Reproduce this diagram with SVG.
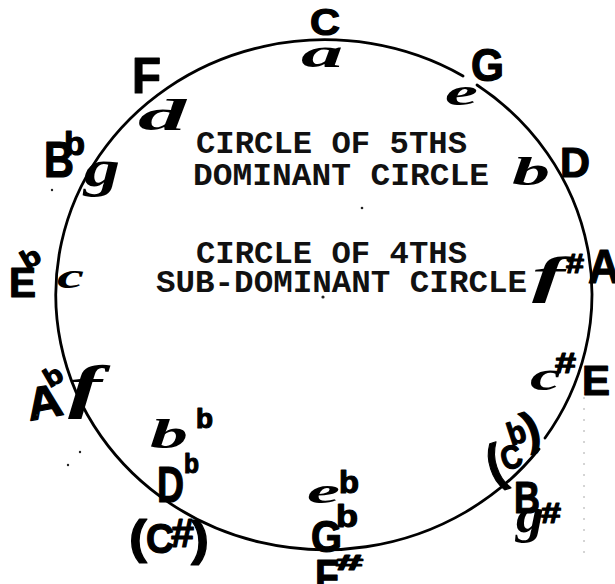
<svg xmlns="http://www.w3.org/2000/svg" width="615" height="584" viewBox="0 0 615 584">
<style>
.cap{font-family:"Liberation Sans","DejaVu Sans",sans-serif;font-weight:bold;fill:#000;stroke:#000;stroke-width:1.2;stroke-linejoin:round}
.low{font-family:"Liberation Serif","DejaVu Serif",serif;font-weight:bold;font-style:italic;fill:#000}
.type{font-family:"Liberation Mono","DejaVu Sans Mono",monospace;font-weight:bold;font-size:32px;fill:#111}
.ring{fill:none;stroke:#000;stroke-width:2.8;stroke-linecap:round}
</style>
<rect width="615" height="584" fill="#fff"/>
<g id="connectors">
<path class="ring" d="M 477 85 A 269 255 0 0 1 545 438 M 539 449 A 269 255 0 1 1 463 76"/>
</g>
<g id="title">
<text class="type" x="196" y="153" textLength="271" lengthAdjust="spacingAndGlyphs">CIRCLE OF 5THS</text>
<text class="type" x="193" y="185" textLength="296" lengthAdjust="spacingAndGlyphs">DOMINANT CIRCLE</text>
<text class="type" x="196" y="263" textLength="271" lengthAdjust="spacingAndGlyphs">CIRCLE OF 4THS</text>
<text class="type" x="156" y="292" textLength="371" lengthAdjust="spacingAndGlyphs">SUB-DOMINANT CIRCLE</text>
</g>
<g id="key-C"><text class="cap" x="310" y="35" font-size="37" textLength="30" lengthAdjust="spacingAndGlyphs">C</text><text class="low" x="301" y="67" font-size="40" textLength="42" lengthAdjust="spacingAndGlyphs">a</text></g>
<g id="key-G"><text class="cap" x="471" y="81" font-size="46" textLength="33" lengthAdjust="spacingAndGlyphs">G</text><text class="low" x="445" y="105" font-size="38" textLength="33" lengthAdjust="spacingAndGlyphs">e</text></g>
<g id="key-D"><text class="cap" x="560" y="177" font-size="42" textLength="30" lengthAdjust="spacingAndGlyphs">D</text><text class="low" x="512" y="185" font-size="40" textLength="38" lengthAdjust="spacingAndGlyphs">b</text></g>
<g id="key-A"><text class="cap" x="588" y="283" font-size="48" textLength="32" lengthAdjust="spacingAndGlyphs">A</text><text class="low" x="532" y="292" font-size="50" textLength="33" lengthAdjust="spacingAndGlyphs">f</text><text class="cap" x="566" y="273" font-size="28" textLength="18" lengthAdjust="spacingAndGlyphs">#</text></g>
<g id="key-E"><text class="cap" x="582" y="395" font-size="42" textLength="28" lengthAdjust="spacingAndGlyphs">E</text><text class="low" x="530" y="390" font-size="42" textLength="31" lengthAdjust="spacingAndGlyphs">c</text><text class="cap" x="555" y="373" font-size="30" textLength="21" lengthAdjust="spacingAndGlyphs">#</text></g>
<g id="key-B"><text class="cap" x="514" y="513" font-size="45" textLength="26" lengthAdjust="spacingAndGlyphs">B</text><text class="low" x="516" y="532" font-size="50" textLength="28" lengthAdjust="spacingAndGlyphs">g</text><text class="cap" x="541" y="523" font-size="30" textLength="20" lengthAdjust="spacingAndGlyphs">#</text>
<g transform="rotate(-18 514 445)"><text class="cap" x="482" y="474" font-size="52" textLength="16" lengthAdjust="spacingAndGlyphs">(</text><text class="cap" x="497" y="467" font-size="33" textLength="21" lengthAdjust="spacingAndGlyphs">C</text><text class="cap" x="511" y="445" font-size="32" textLength="18" lengthAdjust="spacingAndGlyphs">b</text><text class="cap" x="527" y="450" font-size="46" textLength="16" lengthAdjust="spacingAndGlyphs">)</text></g></g>
<g id="key-Gb"><text class="cap" x="311" y="552" font-size="44" textLength="31" lengthAdjust="spacingAndGlyphs">G</text><text class="cap" x="336" y="527" font-size="32" textLength="22" lengthAdjust="spacingAndGlyphs">b</text><text class="low" x="307" y="503" font-size="36" textLength="33" lengthAdjust="spacingAndGlyphs">e</text><text class="cap" x="339" y="493" font-size="31" textLength="20" lengthAdjust="spacingAndGlyphs">b</text><text class="cap" x="315" y="592" font-size="46" textLength="24" lengthAdjust="spacingAndGlyphs">F</text><text class="cap" x="336" y="570" font-size="22" textLength="27" lengthAdjust="spacingAndGlyphs">#</text></g>
<g id="key-Db"><text class="cap" x="157" y="502" font-size="50" textLength="27" lengthAdjust="spacingAndGlyphs">D</text><text class="cap" x="184" y="473" font-size="28" textLength="15" lengthAdjust="spacingAndGlyphs">b</text><text class="low" x="150" y="448" font-size="42" textLength="38" lengthAdjust="spacingAndGlyphs">b</text><text class="cap" x="196" y="428" font-size="27" textLength="17" lengthAdjust="spacingAndGlyphs">b</text><text class="cap" x="129" y="553" font-size="46" textLength="18" lengthAdjust="spacingAndGlyphs">(</text><text class="cap" x="146" y="553" font-size="42" textLength="28" lengthAdjust="spacingAndGlyphs">C</text><text class="cap" x="171" y="547" font-size="40" textLength="23" lengthAdjust="spacingAndGlyphs">#</text><text class="cap" x="191" y="555" font-size="48" textLength="18" lengthAdjust="spacingAndGlyphs">)</text></g>
<g id="key-Ab"><text class="cap" x="26" y="418" font-size="46" textLength="36" lengthAdjust="spacingAndGlyphs" transform="rotate(-10 44 400)">A</text><text class="cap" x="44" y="385" font-size="26" textLength="18" lengthAdjust="spacingAndGlyphs" transform="rotate(-30 53 376)">b</text><text class="low" x="68" y="406" font-size="60" textLength="34" lengthAdjust="spacingAndGlyphs">f</text></g>
<g id="key-Eb"><text class="cap" x="9" y="297" font-size="42" textLength="27" lengthAdjust="spacingAndGlyphs">E</text><text class="cap" x="21" y="267" font-size="26" textLength="19" lengthAdjust="spacingAndGlyphs" transform="rotate(-30 30 258)">b</text><text class="low" x="57" y="288" font-size="36" textLength="27" lengthAdjust="spacingAndGlyphs">c</text></g>
<g id="key-Bb"><text class="cap" x="44" y="177" font-size="50" textLength="30" lengthAdjust="spacingAndGlyphs">B</text><text class="cap" x="64" y="155" font-size="34" textLength="21" lengthAdjust="spacingAndGlyphs">b</text><text class="low" x="84" y="186" font-size="52" textLength="36" lengthAdjust="spacingAndGlyphs">g</text></g>
<g id="key-F"><text class="cap" x="132" y="93" font-size="50" textLength="29" lengthAdjust="spacingAndGlyphs">F</text><text class="low" x="138" y="130" font-size="44" textLength="48" lengthAdjust="spacingAndGlyphs">d</text></g>
<g id="marks" fill="#222">
<circle cx="362" cy="208" r="1.3"/><circle cx="323" cy="297" r="1.6"/><circle cx="52" cy="190" r="1.2"/>
<circle cx="37" cy="415" r="1.1"/><circle cx="80" cy="452" r="1.2"/><circle cx="68" cy="465" r="1.2"/>
<line x1="584" y1="397" x2="584" y2="560" stroke="#aaa" stroke-width="1" stroke-dasharray="2 9"/>
</g>
</svg>
